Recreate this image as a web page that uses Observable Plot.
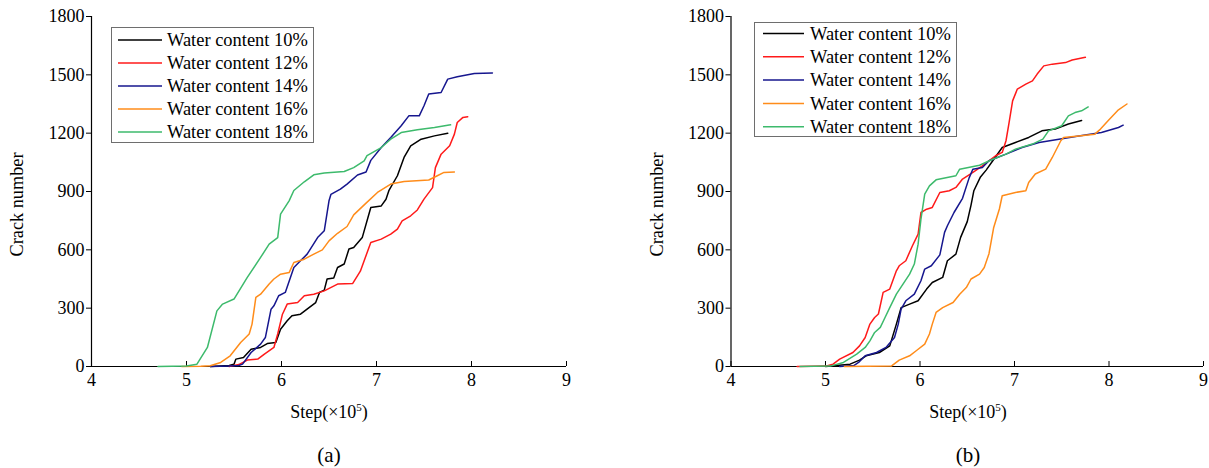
<!DOCTYPE html>
<html>
<head>
<meta charset="utf-8">
<script src="https://cdn.jsdelivr.net/npm/d3@7"></script>
<script src="https://cdn.jsdelivr.net/npm/@observablehq/plot@0.6"></script>
<style>
  body { margin: 0; background: #fff; }
  #fig { position: relative; width: 1209px; height: 468px; overflow: hidden;
         font-family: "Liberation Serif", "Times New Roman", serif; color: #000; }
  .panel { position: absolute; top: 0; }
  .panel svg { overflow: visible; max-width: none; }
  .legend { position: absolute; box-sizing: border-box; border: 1px solid #6e6e6e; background: #fff; }
  .xlabel { position: absolute; font-size: 18px; line-height: 20px; transform: translateX(-50%); white-space: nowrap; }
  .xlabel .sup { font-size: 11px; position: relative; top: -7px; }
  .tag { position: absolute; font-size: 21px; line-height: 24px; transform: translateX(-50%); }
</style>
</head>
<body>
<div id="fig"></div>
<script>
// Series names and colours shared by both panels
const seriesLabels = ["Water content 10%", "Water content 12%", "Water content 14%", "Water content 16%", "Water content 18%"];
const seriesColors = ["#000000", "#ff1a1a", "#16168e", "#ff8c1a", "#3dba6c"];
const stepTicks = [4, 5, 6, 7, 8, 9];
const crackTicks = [0, 300, 600, 900, 1200, 1500, 1800];

// Panel (a): step (×10^5) vs crack number
const stepA10 = [5.25, 5.45, 5.50, 5.52, 5.60, 5.68, 5.78, 5.85, 5.94, 5.99, 6.06, 6.11, 6.20, 6.29, 6.36, 6.40, 6.45, 6.48, 6.55, 6.59, 6.66, 6.71, 6.76, 6.85, 6.94, 7.05, 7.10, 7.13, 7.22, 7.29, 7.36, 7.47, 7.61, 7.75];
const crackA10 = [0, 5, 12, 38, 46, 89, 98, 118, 123, 192, 235, 261, 269, 303, 329, 381, 393, 450, 455, 509, 527, 604, 612, 663, 818, 826, 860, 904, 981, 1075, 1135, 1169, 1186, 1200];
const stepA12 = [5.45, 5.55, 5.64, 5.75, 5.82, 5.92, 5.96, 6.01, 6.06, 6.17, 6.24, 6.34, 6.45, 6.59, 6.75, 6.83, 6.94, 7.05, 7.15, 7.22, 7.27, 7.36, 7.43, 7.50, 7.59, 7.62, 7.68, 7.77, 7.82, 7.85, 7.91, 7.96];
const crackA12 = [0, 10, 33, 38, 64, 98, 167, 269, 321, 329, 364, 372, 389, 424, 427, 490, 638, 655, 681, 707, 749, 775, 805, 861, 920, 1023, 1092, 1135, 1195, 1255, 1281, 1285];
const stepA14 = [5.25, 5.45, 5.55, 5.59, 5.68, 5.78, 5.83, 5.89, 5.92, 5.97, 6.04, 6.13, 6.20, 6.27, 6.38, 6.45, 6.50, 6.52, 6.62, 6.69, 6.80, 6.89, 6.94, 7.05, 7.15, 7.26, 7.34, 7.45, 7.50, 7.55, 7.68, 7.75, 7.85, 8.03, 8.22];
const crackA14 = [0, 3, 5, 12, 72, 115, 149, 295, 312, 364, 381, 509, 544, 578, 663, 698, 852, 885, 912, 938, 985, 1000, 1060, 1126, 1178, 1238, 1289, 1289, 1341, 1401, 1409, 1478, 1490, 1507, 1510];
const stepA16 = [4.95, 5.15, 5.25, 5.36, 5.46, 5.57, 5.66, 5.69, 5.73, 5.78, 5.87, 5.92, 5.99, 6.08, 6.13, 6.24, 6.34, 6.43, 6.50, 6.59, 6.69, 6.76, 6.89, 7.01, 7.15, 7.29, 7.55, 7.64, 7.71, 7.82];
const crackA16 = [0, 1, 4, 21, 55, 123, 167, 218, 355, 372, 424, 450, 475, 483, 535, 552, 578, 600, 646, 685, 720, 780, 840, 895, 938, 951, 959, 981, 998, 1000];
const stepA18 = [4.70, 5.00, 5.11, 5.22, 5.32, 5.38, 5.50, 5.64, 5.78, 5.87, 5.96, 5.99, 6.08, 6.13, 6.24, 6.34, 6.45, 6.66, 6.76, 6.87, 6.90, 7.05, 7.15, 7.26, 7.43, 7.61, 7.78];
const crackA18 = [0, 2, 12, 98, 286, 321, 347, 458, 561, 629, 663, 784, 852, 905, 950, 986, 995, 1003, 1023, 1058, 1084, 1126, 1169, 1203, 1217, 1229, 1243];

// Panel (b): step (×10^5) vs crack number
const stepB10 = [5.00, 5.26, 5.36, 5.43, 5.57, 5.68, 5.75, 5.80, 5.89, 5.98, 6.07, 6.13, 6.24, 6.29, 6.38, 6.43, 6.50, 6.54, 6.57, 6.64, 6.70, 6.77, 6.87, 7.01, 7.15, 7.29, 7.43, 7.57, 7.71];
const crackB10 = [0, 12, 33, 55, 72, 106, 218, 303, 321, 338, 398, 432, 458, 544, 578, 664, 745, 830, 904, 975, 1010, 1058, 1126, 1152, 1178, 1212, 1221, 1247, 1265];
const stepB12 = [4.70, 5.00, 5.08, 5.15, 5.29, 5.36, 5.42, 5.47, 5.52, 5.56, 5.61, 5.68, 5.75, 5.78, 5.85, 5.92, 5.98, 6.01, 6.07, 6.13, 6.21, 6.31, 6.38, 6.45, 6.56, 6.66, 6.73, 6.80, 6.87, 6.91, 6.94, 6.98, 7.03, 7.12, 7.19, 7.24, 7.31, 7.40, 7.54, 7.61, 7.75];
const crackB12 = [0, 2, 12, 38, 72, 106, 149, 218, 252, 270, 381, 398, 492, 518, 544, 621, 681, 792, 809, 818, 895, 904, 921, 964, 998, 1032, 1058, 1084, 1101, 1161, 1247, 1366, 1427, 1452, 1469, 1504, 1546, 1555, 1563, 1576, 1590];
const stepB14 = [5.15, 5.30, 5.35, 5.42, 5.54, 5.64, 5.73, 5.77, 5.80, 5.85, 5.94, 6.01, 6.05, 6.12, 6.21, 6.26, 6.29, 6.36, 6.45, 6.52, 6.56, 6.66, 6.73, 6.91, 7.08, 7.26, 7.47, 7.68, 7.92, 8.10, 8.15];
const crackB14 = [0, 5, 21, 55, 72, 98, 149, 218, 295, 338, 372, 441, 501, 518, 574, 690, 724, 792, 865, 970, 1015, 1023, 1058, 1092, 1126, 1152, 1169, 1186, 1203, 1229, 1241];
const stepB16 = [5.20, 5.70, 5.78, 5.89, 5.96, 6.05, 6.10, 6.13, 6.17, 6.24, 6.35, 6.42, 6.49, 6.54, 6.63, 6.68, 6.73, 6.78, 6.84, 6.87, 7.01, 7.12, 7.15, 7.22, 7.33, 7.40, 7.49, 7.52, 7.68, 7.85, 7.91, 7.99, 8.10, 8.19];
const crackB16 = [0, 3, 33, 55, 81, 115, 167, 218, 278, 303, 329, 372, 406, 450, 475, 509, 580, 715, 810, 878, 895, 904, 946, 990, 1015, 1075, 1161, 1178, 1186, 1195, 1221, 1264, 1320, 1350];
const stepB18 = [4.73, 5.05, 5.19, 5.33, 5.42, 5.47, 5.52, 5.58, 5.63, 5.68, 5.75, 5.82, 5.89, 5.94, 5.98, 6.01, 6.05, 6.10, 6.17, 6.38, 6.42, 6.63, 6.77, 6.91, 7.01, 7.19, 7.30, 7.36, 7.50, 7.57, 7.64, 7.71, 7.78];
const crackB18 = [0, 2, 21, 64, 98, 132, 175, 201, 252, 303, 372, 424, 475, 527, 629, 758, 887, 929, 960, 981, 1015, 1035, 1066, 1092, 1118, 1144, 1169, 1212, 1238, 1289, 1306, 1315, 1335];

const panelA = [[stepA10, crackA10], [stepA12, crackA12], [stepA14, crackA14], [stepA16, crackA16], [stepA18, crackA18]];
const panelB = [[stepB10, crackB10], [stepB12, crackB12], [stepB14, crackB14], [stepB16, crackB16], [stepB18, crackB18]];

const fig = document.getElementById("fig");
const H = 400, MT = 16, MB = 34;
const serif = '"Liberation Serif", "Times New Roman", serif';

// scale a text element's font so its rendered length equals the target
function fitText(node, target) {
  const len = node.getComputedTextLength();
  const fs = parseFloat(getComputedStyle(node).fontSize) || 18;
  if (len > 0) node.style.fontSize = (fs * target / len).toFixed(2) + "px";
}

function drawPanel(series, cfg) {
  const rows = series.flatMap(([steps, cracks], i) =>
    steps.map((s, j) => ({step: s, crack: cracks[j], series: seriesLabels[i]})));
  const frameH = H - MT - MB;
  const chart = Plot.plot({
    width: cfg.width,
    height: H,
    marginLeft: cfg.marginLeft,
    marginRight: cfg.marginRight,
    marginTop: MT,
    marginBottom: MB,
    style: {fontFamily: serif, fontSize: "18px", background: "transparent", color: "#000", overflow: "visible"},
    x: {domain: [4, 9]},
    y: {domain: [0, 1800]},
    color: {domain: seriesLabels, range: seriesColors},
    marks: [
      Plot.axisX(stepTicks, {tickSize: 0, tickPadding: 7, label: null, tickFormat: d => String(d)}),
      // x ticks point into the plot
      Plot.ruleX(stepTicks, {insetTop: frameH - 5, stroke: "#000", strokeWidth: 1}),
      Plot.axisY(crackTicks, {tickSize: 5, tickPadding: 2, label: null, tickFormat: d => String(d)}),
      Plot.ruleX([4], {stroke: "#000", strokeWidth: 1.2}),
      Plot.ruleY([0], {stroke: "#000", strokeWidth: 1.2}),
      Plot.line(rows, {x: "step", y: "crack", z: "series", stroke: "series", strokeWidth: 1.5}),
      Plot.text(["Crack number"], {frameAnchor: "left", textAnchor: "middle", dx: -74, dy: 13, rotate: -90, fontSize: 18})
    ]
  });
  const holder = document.createElement("div");
  holder.className = "panel";
  holder.style.left = cfg.left + "px";
  holder.appendChild(chart);
  fig.appendChild(holder);
  d3.select(chart).selectAll("text")
    .filter(function() { return this.textContent === "Crack number"; })
    .each(function() { fitText(this, 104); });

  // legend box with line samples
  const lg = cfg.legend;
  const box = document.createElement("div");
  box.className = "legend";
  Object.assign(box.style, {left: lg.x + "px", top: lg.y + "px", width: lg.w + "px", height: lg.h + "px"});
  const svg = d3.create("svg").attr("width", lg.w - 2).attr("height", lg.h - 2)
    .style("display", "block").style("overflow", "visible");
  seriesLabels.forEach((name, i) => {
    const cy = lg.row0 + i * lg.rowStep;
    svg.append("line").attr("x1", lg.lineX0).attr("x2", lg.lineX1).attr("y1", cy).attr("y2", cy)
      .attr("stroke", seriesColors[i]).attr("stroke-width", 1.5);
    svg.append("text").attr("x", lg.textX).attr("y", cy).attr("dy", "0.34em")
      .style("font-family", serif).style("font-size", "18px")
      .text(name);
  });
  box.appendChild(svg.node());
  fig.appendChild(box);
  svg.selectAll("text").each(function() { fitText(this, 141); });

  const xl = document.createElement("div");
  xl.className = "xlabel";
  xl.style.left = cfg.center + "px";
  xl.style.top = "402px";
  xl.innerHTML = 'Step(×10<span class="sup">5</span>)';
  fig.appendChild(xl);

  const tag = document.createElement("div");
  tag.className = "tag";
  tag.style.left = cfg.center + "px";
  tag.style.top = "443px";
  tag.textContent = cfg.tag;
  fig.appendChild(tag);
}

drawPanel(panelA, {
  left: 0, width: 604, marginLeft: 91, marginRight: 38, center: 329, tag: "(a)",
  legend: {x: 111, y: 27, w: 203, h: 116, row0: 12, rowStep: 23, lineX0: 6, lineX1: 50, textX: 55}
});
drawPanel(panelB, {
  left: 604, width: 605, marginLeft: 126.5, marginRight: 6, center: 968, tag: "(b)",
  legend: {x: 754, y: 22, w: 203, h: 115, row0: 10.5, rowStep: 23.3, lineX0: 8, lineX1: 49, textX: 55}
});
</script>
</body>
</html>
